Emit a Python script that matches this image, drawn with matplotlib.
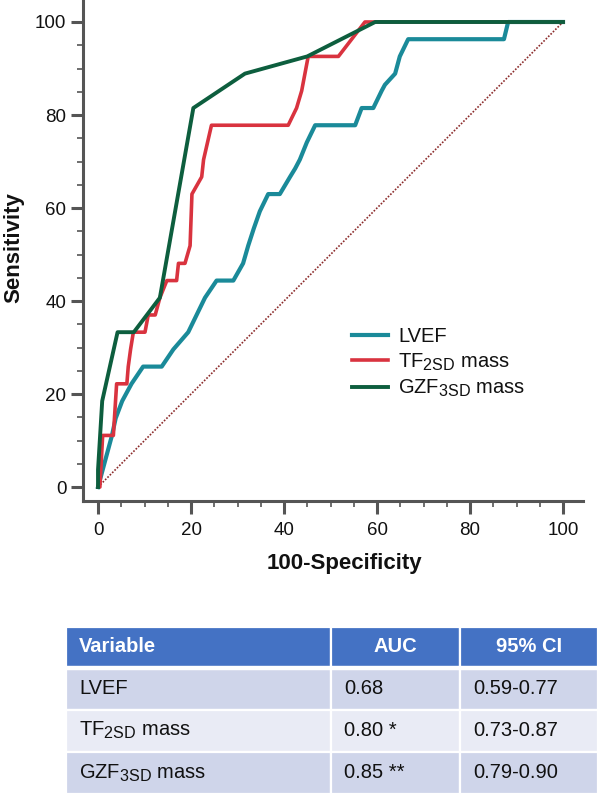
import matplotlib
matplotlib.use("Agg")
import matplotlib.pyplot as plt
from matplotlib.patches import Rectangle
from matplotlib.ticker import MultipleLocator
try:
    import matplotlib._mathtext as _mt
    _mt.SHRINK_FACTOR = 0.8
except Exception:
    pass

plt.rcParams['font.family'] = ['Liberation Sans', 'DejaVu Sans']
plt.rcParams['mathtext.fontset'] = 'custom'
plt.rcParams['mathtext.rm'] = 'Liberation Sans'

# ---- data ----
lvef_fpr = [0, 1, 2, 3, 3.8, 5.2, 7.2, 9.7, 13.7, 16.2, 19.4, 21.2, 23, 25.5, 29.1, 31.2, 32.3,
            33.5, 34.8, 36.6, 39.1, 41.3, 42.4, 43.4, 44.9, 46.7, 55.3, 56.7, 59.2, 61, 61.7,
            63.9, 64.9, 66.7, 87.3, 88.2, 100]
lvef_tpr = [0, 3.7, 7.4, 11.1, 14.8, 18.5, 22.2, 25.9, 25.9, 29.6, 33.3, 37, 40.7, 44.4, 44.4,
            48.1, 51.9, 55.6, 59.3, 63, 63, 66.7, 68.5, 70.4, 74.1, 77.8, 77.8, 81.5, 81.5, 85.2,
            86.5, 88.9, 92.6, 96.3, 96.3, 100, 100]

tf_fpr = [0, 0.4, 1, 3.3, 4, 6.2, 6.5, 7, 7.6, 10.1, 10.8, 12.3, 13.3, 14.8, 16.9, 17.3, 18.7,
          19.8, 20.2, 22.3, 22.7, 24.4, 40.9, 42.7, 43.8, 45.2, 51.7, 57.4, 100]
tf_tpr = [0, 0, 11.1, 11.1, 22.2, 22.2, 25.9, 29.6, 33.3, 33.3, 37, 37, 40.7, 44.4, 44.4, 48.1,
          48.1, 51.9, 63, 66.7, 70.4, 77.8, 77.8, 81.5, 85.2, 92.6, 92.6, 100, 100]

gzf_fpr = [0, 0, 0.9, 4.2, 7.7, 13.3, 20.5, 31.6, 45, 59.6, 100]
gzf_tpr = [0, 3.7, 18.5, 33.3, 33.3, 40.7, 81.5, 88.9, 92.6, 100, 100]

ref_line = [0, 100]

series_labels = ['LVEF', 'TF$_{\\mathregular{2SD}}$ mass', 'GZF$_{\\mathregular{3SD}}$ mass']

x_ticks = [0, 20, 40, 60, 80, 100]
y_ticks = [0, 20, 40, 60, 80, 100]

table_header = ['Variable', 'AUC', '95% CI']
table_variables = ['LVEF', 'TF$_{\\mathregular{2SD}}$ mass', 'GZF$_{\\mathregular{3SD}}$ mass']
table_auc = ['0.68', '0.80 *', '0.85 **']
table_ci = ['0.59-0.77', '0.73-0.87', '0.79-0.90']

# ---- figure ----
W, H = 600, 794
fig = plt.figure(figsize=(W / 100, H / 100), dpi=100)

def fx(px):
    return px / W

def fy(py):
    return 1 - py / H

ax = fig.add_axes([fx(83), fy(501), 500 / W, 501 / H])

c_teal = '#1a8a99'
c_red = '#d9333f'
c_green = '#0d5e3e'

ax.plot(ref_line, ref_line, color='#8b2a2a', lw=1.2, ls=(0, (1, 1)), zorder=1)
ax.plot(lvef_fpr, lvef_tpr, color=c_teal, lw=3.0, label=series_labels[0], zorder=2,
        solid_joinstyle='round')
ax.plot(tf_fpr, tf_tpr, color=c_red, lw=2.6, label=series_labels[1], zorder=3,
        solid_joinstyle='round')
ax.plot(gzf_fpr, gzf_tpr, color=c_green, lw=2.8, label=series_labels[2], zorder=4,
        solid_joinstyle='round')

ax.set_xlim(-3.23, 104.3)
ax.set_ylim(-3.0, 104.73)
ax.set_xticks(x_ticks)
ax.set_yticks(y_ticks)
ax.xaxis.set_minor_locator(MultipleLocator(5))
ax.yaxis.set_minor_locator(MultipleLocator(5))
spine_c = '#555555'
for s in ['top', 'right']:
    ax.spines[s].set_visible(False)
for s in ['left', 'bottom']:
    ax.spines[s].set_color(spine_c)
    ax.spines[s].set_linewidth(2.2)
ax.tick_params(which='major', direction='out', length=9, width=2.2, color=spine_c,
               labelsize=13.5, labelcolor='#111111')
ax.tick_params(which='minor', direction='out', length=4.5, width=1.2, color=spine_c)
ax.tick_params(axis='x', which='major', pad=6)
ax.tick_params(axis='y', which='major', pad=3)

fig.text(fx(344), fy(563), '100-Specificity', ha='center', va='center',
         fontsize=16, fontweight='bold', color='#111111')
fig.text(fx(14), fy(248), 'Sensitivity', ha='center', va='center', rotation=90,
         fontsize=16, fontweight='bold', color='#111111')

leg = ax.legend(loc='upper left', bbox_to_anchor=(fx(352), fy(327)),
                bbox_transform=fig.transFigure, frameon=False, fontsize=14.5,
                handlelength=1.8, handletextpad=0.5, labelspacing=0.26,
                borderpad=0, borderaxespad=0)
for t in leg.get_texts():
    t.set_color('#111111')

# ---- table ----
tax = fig.add_axes([0, 0, 1, 1])
tax.set_xlim(0, W)
tax.set_ylim(H, 0)
tax.axis('off')

col_edges = [66, 331, 460, 598]
row_edges = [627, 667, 709.5, 752, 794]
row_colors = ['#4472c4', '#cfd5ea', '#e9ebf5', '#cfd5ea']

rows = [table_header] + [[v, a, c] for v, a, c in zip(table_variables, table_auc, table_ci)]
for r in range(4):
    y0, y1 = row_edges[r], row_edges[r + 1]
    for ci in range(3):
        x0, x1 = col_edges[ci], col_edges[ci + 1]
        tax.add_patch(Rectangle((x0, y0), x1 - x0, y1 - y0, facecolor=row_colors[r],
                                edgecolor='white', lw=1.6))
        yc = (y0 + y1) / 2
        txt = rows[r][ci]
        if r == 0:
            if ci == 0:
                tax.text(x0 + 13, yc, txt, ha='left', va='center', fontsize=14.5,
                         fontweight='bold', color='white')
            else:
                tax.text((x0 + x1) / 2, yc, txt, ha='center', va='center', fontsize=14.5,
                         fontweight='bold', color='white')
        else:
            tax.text(x0 + 13, yc, txt, ha='left', va='center', fontsize=14.5, color='#111111')
# thicker white separator below header
tax.plot([col_edges[0], col_edges[-1]], [row_edges[1] + 0.5, row_edges[1] + 0.5],
         color='white', lw=2.5)

fig.savefig('out.png', dpi=100)
